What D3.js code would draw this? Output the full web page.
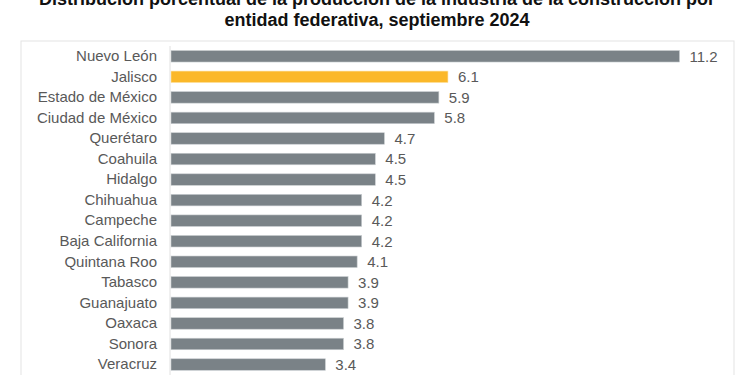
<!DOCTYPE html>
<html lang="es">
<head>
<meta charset="utf-8">
<title>Distribución porcentual de la producción de la construcción</title>
<style>
  body { margin: 0; background: #fff; }
  svg { display: block; font-family: "Liberation Sans", Arial, sans-serif; }
  .title { font-weight: bold; font-size: 18px; fill: #111; }
  .cat { font-size: 15px; fill: #595959; }
  .val { font-size: 15px; fill: #595959; }
</style>
</head>
<body>
<script src="https://cdn.jsdelivr.net/npm/d3@7"></script>
<script>
// data
var states = ["Nuevo León", "Jalisco", "Estado de México", "Ciudad de México", "Querétaro",
  "Coahuila", "Hidalgo", "Chihuahua", "Campeche", "Baja California", "Quintana Roo",
  "Tabasco", "Guanajuato", "Oaxaca", "Sonora", "Veracruz"];
var shares = [11.2, 6.1, 5.9, 5.8, 4.7, 4.5, 4.5, 4.2, 4.2, 4.2, 4.1, 3.9, 3.9, 3.8, 3.8, 3.4];
var highlight = "Jalisco";
var titleLines = ["Distribución porcentual de la producción de la industria de la construcción por",
  "entidad federativa, septiembre 2024"];

var W = 750, H = 375;

var svg = d3.select("body").append("svg")
    .attr("width", W)
    .attr("height", H);

// panel frame
svg.append("rect")
    .attr("x", 21).attr("y", 41)
    .attr("width", 713).attr("height", 400)
    .attr("fill", "#fff")
    .attr("stroke", "#e3e3e3")
    .attr("stroke-width", 1);

// title (top line is cut by the picture edge, as in the original)
svg.selectAll(".title")
    .data(titleLines)
  .enter().append("text")
    .attr("class", "title")
    .attr("x", 377)
    .attr("y", function(d, i) { return 4.5 + i * 21.5; })
    .attr("text-anchor", "middle")
    .text(function(d) { return d; });

var x0 = 171;
var xScale = d3.scaleLinear()
    .domain([0, 11.2])
    .range([x0, 679.5]);

var step = 20.55;
var yScale = d3.scaleBand()
    .domain(states)
    .range([46, 46 + step * states.length])
    .paddingInner(0.44)
    .paddingOuter(0.22);

// bars
svg.selectAll(".bar")
    .data(states)
  .enter().append("rect")
    .attr("class", "bar")
    .attr("x", xScale(0))
    .attr("y", function(d) { return yScale(d); })
    .attr("width", function(d, i) { return xScale(shares[i]) - xScale(0); })
    .attr("height", yScale.bandwidth())
    .attr("fill", function(d) { return d === highlight ? "#fbb829" : "#7a8287"; })
    .attr("stroke", function(d) { return d === highlight ? "#fde3a6" : "#c9cdd0"; })
    .attr("stroke-width", 0.6);

// axis line on the left
var yAxis = d3.axisLeft(yScale).tickSize(0).tickPadding(13);
var gAxis = svg.append("g")
    .attr("transform", "translate(" + (x0 - 1) + ",0)")
    .call(yAxis);
gAxis.select(".domain")
    .attr("d", "M0,46V" + H)
    .attr("stroke", "#e0e0e0");
gAxis.selectAll("text")
    .attr("class", "cat")
    .attr("font-family", null)
    .attr("font-size", null)
    .attr("fill", null);

// value labels
svg.selectAll(".val")
    .data(states)
  .enter().append("text")
    .attr("class", "val")
    .attr("x", function(d, i) { return xScale(shares[i]) + 10; })
    .attr("y", function(d) { return yScale(d) + yScale.bandwidth() / 2; })
    .attr("dy", "0.36em")
    .text(function(d, i) { return shares[i].toFixed(1); });
</script>
</body>
</html>
